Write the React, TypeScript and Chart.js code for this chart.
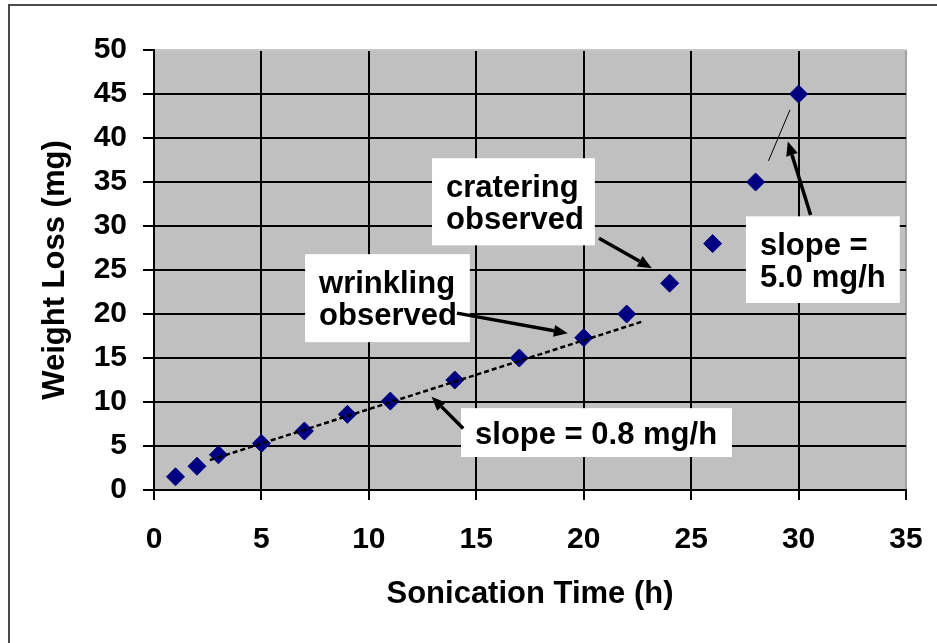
import React, { useEffect, useRef } from "react";
import { Chart, registerables } from "chart.js";

Chart.register(...registerables);

// ---- data ----
const timeH = [1, 2, 3, 5, 7, 9, 11, 14, 17, 20, 22, 24, 26, 28, 30];
const weightLossMg = [1.5, 2.7, 4.0, 5.3, 6.7, 8.6, 10.1, 12.5, 15.0, 17.3, 20.0, 23.5, 28.0, 35.0, 45.0];

const xAxisMin = 0;
const xAxisMax = 35;
const xAxisStep = 5;
const yAxisMin = 0;
const yAxisMax = 50;
const yAxisStep = 5;

// early linear fit (slope 0.8 mg/h)
const fitLowX = [2.6, 22.8];
const fitLowY = [3.4, 19.2];
// late fit segment (slope 5.0 mg/h)
const fitHighX = [28.6, 29.6];
const fitHighY = [37.4, 43.2];

const xTitle = "Sonication Time (h)";
const yTitle = "Weight Loss (mg)";

// annotation labels
const noteLines = [
  ["wrinkling", "observed"],
  ["cratering", "observed"],
  ["slope = 0.8 mg/h"],
  ["slope =", "5.0 mg/h"],
];
// box corners in data units: [xLeft, xRight, yTop, yBottom]
const noteBoxes = [
  [7.03, 14.7, 26.8, 16.8],
  [12.94, 20.52, 37.7, 27.8],
  [14.29, 26.9, 9.3, 3.75],
  [27.55, 34.71, 31.1, 21.25],
];
// arrows in data units: [xTail, yTail, xHead, yHead]
const arrowsData = [
  [14.1, 20.1, 19.26, 17.8],
  [20.71, 28.6, 23.17, 25.2],
  [14.39, 7.0, 12.92, 10.6],
  [30.56, 31.25, 29.5, 39.6],
];

const FONT = "'Liberation Sans', Arial, sans-serif";
const TICK_SIZE = 30;
const TEXT_SIZE = 31;
const FONT_WEIGHT = "bold";

const plotBgPlugin = {
  id: "plotBg",
  beforeDraw(chart: any) {
    const { ctx, chartArea } = chart;
    ctx.save();
    ctx.fillStyle = "#c0c0c0";
    ctx.fillRect(chartArea.left, chartArea.top, chartArea.right - chartArea.left, chartArea.bottom - chartArea.top);
    ctx.restore();
  },
};

const notesPlugin = {
  id: "notes",
  afterDatasetsDraw(chart: any) {
    const { ctx } = chart;
    const xs = chart.scales.x;
    const ys = chart.scales.y;
    ctx.save();
    ctx.font = `${FONT_WEIGHT} ${TEXT_SIZE}px ${FONT}`;
    ctx.textBaseline = "alphabetic";
    ctx.textAlign = "left";
    noteBoxes.forEach((b, i) => {
      const l = xs.getPixelForValue(b[0]);
      const r = xs.getPixelForValue(b[1]);
      const t = ys.getPixelForValue(b[2]);
      const bt = ys.getPixelForValue(b[3]);
      ctx.fillStyle = "#ffffff";
      ctx.fillRect(l, t, r - l, bt - t);
      const lines = noteLines[i];
      const lh = 32;
      const cy = (t + bt) / 2;
      const capH = TEXT_SIZE * 0.716;
      ctx.fillStyle = "#000";
      lines.forEach((s, k) => {
        const base = cy - ((lines.length - 1) * lh) / 2 + k * lh + capH / 2;
        ctx.fillText(s, l + 14, base);
      });
    });
    ctx.strokeStyle = "#000";
    ctx.fillStyle = "#000";
    arrowsData.forEach((a) => {
      const x1 = xs.getPixelForValue(a[0]);
      const y1 = ys.getPixelForValue(a[1]);
      const x2 = xs.getPixelForValue(a[2]);
      const y2 = ys.getPixelForValue(a[3]);
      const ang = Math.atan2(y2 - y1, x2 - x1);
      const hl = 14;
      const hw = 6;
      const bx = x2 - hl * Math.cos(ang);
      const by = y2 - hl * Math.sin(ang);
      ctx.lineWidth = 3.5;
      ctx.beginPath();
      ctx.moveTo(x1, y1);
      ctx.lineTo(bx, by);
      ctx.stroke();
      ctx.beginPath();
      ctx.moveTo(x2, y2);
      ctx.lineTo(bx + hw * Math.sin(ang), by - hw * Math.cos(ang));
      ctx.lineTo(bx - hw * Math.sin(ang), by + hw * Math.cos(ang));
      ctx.closePath();
      ctx.fill();
    });
    ctx.restore();
  },
};

export default function App() {
  const ref = useRef<HTMLCanvasElement | null>(null);
  useEffect(() => {
    document.body.style.margin = "0";
    const canvas = ref.current;
    if (!canvas) return;
    const tickFont = { family: FONT, size: TICK_SIZE, weight: FONT_WEIGHT as any };
    const titleFont = { family: FONT, size: TEXT_SIZE, weight: FONT_WEIGHT as any };
    const chart = new Chart(canvas, {
      type: "scatter",
      data: {
        datasets: [
          {
            label: "fit low",
            data: fitLowX.map((x, i) => ({ x, y: fitLowY[i] })),
            showLine: true,
            borderColor: "#000",
            borderWidth: 2.5,
            borderDash: [5, 3],
            pointRadius: 0,
            order: 0,
          },
          {
            label: "fit high",
            data: fitHighX.map((x, i) => ({ x, y: fitHighY[i] })),
            showLine: true,
            borderColor: "#000",
            borderWidth: 1,
            pointRadius: 0,
            order: 0,
          },
          {
            label: "Weight loss",
            data: timeH.map((x, i) => ({ x, y: weightLossMg[i] })),
            pointStyle: "rectRot",
            pointRadius: 9,
            pointBackgroundColor: "#000080",
            pointBorderColor: "#000080",
            pointBorderWidth: 1,
            showLine: false,
            order: 1,
          },
        ],
      },
      options: {
        responsive: false,
        animation: false,
        events: [],
        layout: { padding: { top: 50, right: 31, left: 0, bottom: 0 } },
        plugins: { legend: { display: false }, tooltip: { enabled: false }, title: { display: false } },
        scales: {
          x: {
            type: "linear",
            min: xAxisMin,
            max: xAxisMax,
            ticks: { stepSize: xAxisStep, color: "#000", font: tickFont, padding: 22, maxRotation: 0 },
            grid: {
              color: (c: any) => (c.tick && c.tick.value === xAxisMax ? "#a0a0a0" : "#000"),
              lineWidth: 2,
              tickLength: 10,
              tickColor: "#000",
              tickWidth: 2,
            },
            border: { color: "#000", width: 2 },
            title: { display: true, text: xTitle, color: "#000", font: titleFont, padding: { top: 0, bottom: 30 } },
            afterFit: (s: any) => {
              s.height = 153;
              s.paddingRight = 0;
              s.paddingLeft = 0;
            },
          },
          y: {
            type: "linear",
            min: yAxisMin,
            max: yAxisMax,
            ticks: { stepSize: yAxisStep, color: "#000", font: tickFont, padding: 16 },
            grid: {
              color: (c: any) => (c.tick && c.tick.value === yAxisMax ? "#c8c8c8" : "#000"),
              lineWidth: 2,
              tickLength: 11,
              tickColor: "#000",
              tickWidth: 2,
            },
            border: { color: "#000", width: 2 },
            title: { display: true, text: yTitle, color: "#000", font: titleFont, padding: { top: 37, bottom: 0 } },
            afterFit: (s: any) => {
              s.width = 154;
              s.paddingTop = 0;
              s.paddingBottom = 0;
            },
          },
        },
      },
      plugins: [plotBgPlugin, notesPlugin],
    });
    return () => chart.destroy();
  }, []);

  return (
    <div style={{ position: "relative", width: 937, height: 643, overflow: "hidden", background: "#fff" }}>
      <div
        style={{
          position: "absolute",
          left: 8,
          top: 4,
          width: 960,
          height: 700,
          borderLeft: "2px solid #4a4a4a",
          borderTop: "2px solid #4a4a4a",
          pointerEvents: "none",
        }}
      />
      <canvas ref={ref} width={937} height={643} style={{ display: "block", position: "relative" }} />
    </div>
  );
}
